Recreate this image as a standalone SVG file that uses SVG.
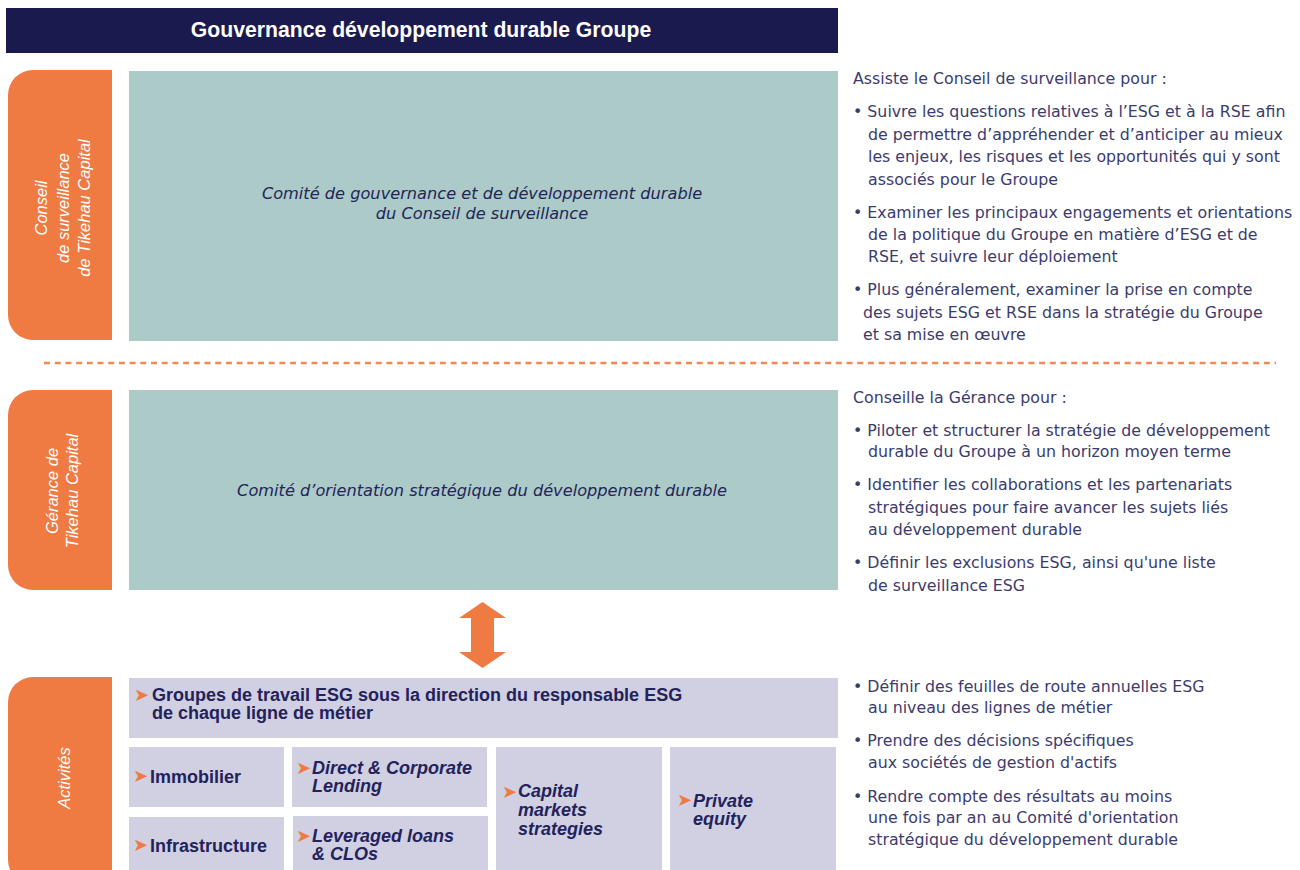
<svg xmlns="http://www.w3.org/2000/svg" width="1300" height="870" viewBox="0 0 1300 870">
<style>
.orange{fill:#ef7a42}
.teal{fill:#abcac8}
.lav{fill:#d1d0e3}
.side{font-family:"Liberation Sans",Arial,sans-serif;font-style:italic;font-size:16.5px;fill:#ffffff;text-anchor:middle}
.tealtxt{font-family:"DejaVu Sans",sans-serif;font-style:oblique;font-size:16.2px;fill:#24245a;text-anchor:middle}
.body{font-family:"DejaVu Sans",sans-serif;font-size:15.8px;fill:#3b3b6e}
.lt{font-family:"Liberation Sans",Arial,sans-serif;font-weight:bold;font-size:18px;fill:#23225a}
.lti{font-family:"Liberation Sans",Arial,sans-serif;font-weight:bold;font-style:italic;font-size:18px;fill:#23225a}
.bul{font-family:"DejaVu Sans",sans-serif;font-size:18px;fill:#ef7a42}
</style>

<g id="title">
<rect x="6" y="8" width="832" height="45" fill="#1b1a4f"/>
<text x="421" y="37" font-family="Liberation Sans, Arial, sans-serif" font-weight="bold" font-size="21.2" fill="#ffffff" text-anchor="middle">Gouvernance développement durable Groupe</text>
</g>

<g id="conseil-label">
<path class="orange" d="M112,70 H33 A25,25 0 0 0 8,95 V315 A25,25 0 0 0 33,340 H112 Z"/>
<text class="side" transform="translate(47,208) rotate(-90)"><tspan x="0" y="0">Conseil</tspan><tspan x="0" y="22">de surveillance</tspan><tspan x="0" y="43">de Tikehau Capital</tspan></text>
</g>

<g id="comite-gouvernance">
<rect class="teal" x="129" y="71" width="709" height="270"/>
<text class="tealtxt"><tspan x="482" y="199">Comité de gouvernance et de développement durable</tspan><tspan x="482" y="219">du Conseil de surveillance</tspan></text>
</g>

<g id="conseil-text">
<text class="body" x="853" y="84">Assiste le Conseil de surveillance pour :</text>
<text class="body"><tspan x="853" y="117">• Suivre les questions relatives à l’ESG et à la RSE afin</tspan><tspan x="868" y="140">de permettre d’appréhender et d’anticiper au mieux</tspan><tspan x="868" y="162">les enjeux, les risques et les opportunités qui y sont</tspan><tspan x="868" y="185">associés pour le Groupe</tspan></text>
<text class="body"><tspan x="853" y="218">• Examiner les principaux engagements et orientations</tspan><tspan x="868" y="240">de la politique du Groupe en matière d’ESG et de</tspan><tspan x="868" y="262">RSE, et suivre leur déploiement</tspan></text>
<text class="body"><tspan x="853" y="295">• Plus généralement, examiner la prise en compte</tspan><tspan x="863" y="318">des sujets ESG et RSE dans la stratégie du Groupe</tspan><tspan x="863" y="340">et sa mise en œuvre</tspan></text>
</g>

<g id="separator">
<line x1="44" y1="363" x2="1276" y2="363" stroke="#f08a55" stroke-width="2.5" stroke-dasharray="6 4.7"/>
</g>

<g id="gerance-label">
<path class="orange" d="M112,390 H33 A25,25 0 0 0 8,415 V565 A25,25 0 0 0 33,590 H112 Z"/>
<text class="side" transform="translate(58,491) rotate(-90)"><tspan x="0" y="0">Gérance de</tspan><tspan x="0" y="20">Tikehau Capital</tspan></text>
</g>

<g id="comite-orientation">
<rect class="teal" x="129" y="390" width="709" height="200"/>
<text class="tealtxt" x="482" y="496">Comité d’orientation stratégique du développement durable</text>
</g>

<g id="gerance-text">
<text class="body" x="853" y="403">Conseille la Gérance pour :</text>
<text class="body"><tspan x="853" y="436">• Piloter et structurer la stratégie de développement</tspan><tspan x="868" y="457">durable du Groupe à un horizon moyen terme</tspan></text>
<text class="body"><tspan x="853" y="490">• Identifier les collaborations et les partenariats</tspan><tspan x="868" y="513">stratégiques pour faire avancer les sujets liés</tspan><tspan x="868" y="535">au développement durable</tspan></text>
<text class="body"><tspan x="853" y="568">• Définir les exclusions ESG, ainsi qu'une liste</tspan><tspan x="868" y="591">de surveillance ESG</tspan></text>
</g>

<g id="activites-label">
<path class="orange" d="M112,677 H33 A25,25 0 0 0 8,702 V860 A25,25 0 0 0 33,885 H112 Z"/>
<text class="side" transform="translate(70,778) rotate(-90)">Activités</text>
</g>

<g id="groupes-travail">
<rect class="lav" x="129" y="678" width="709" height="60"/>
<text class="bul" x="134" y="701">➤</text>
<text class="lt"><tspan x="152" y="701">Groupes de travail ESG sous la direction du responsable ESG</tspan><tspan x="152" y="719">de chaque ligne de métier</tspan></text>
</g>

<g id="immobilier">
<rect class="lav" x="129" y="747" width="155" height="60"/>
<text class="bul" x="133" y="782">➤</text>
<text class="lt" x="150" y="783">Immobilier</text>
</g>

<g id="direct-lending">
<rect class="lav" x="292" y="747" width="195" height="60"/>
<text class="bul" x="296" y="774">➤</text>
<text class="lti"><tspan x="312" y="774">Direct &amp; Corporate</tspan><tspan x="312" y="792">Lending</tspan></text>
</g>

<g id="infrastructure">
<rect class="lav" x="129" y="817" width="155" height="60"/>
<text class="bul" x="133" y="851">➤</text>
<text class="lt" x="150" y="852">Infrastructure</text>
</g>

<g id="leveraged-loans">
<rect class="lav" x="293" y="816" width="195" height="60"/>
<text class="bul" x="296" y="842">➤</text>
<text class="lti"><tspan x="312" y="842">Leveraged loans</tspan><tspan x="312" y="860">&amp; CLOs</tspan></text>
</g>

<g id="capital-markets">
<rect class="lav" x="496" y="747" width="166" height="130"/>
<text class="bul" x="502" y="798">➤</text>
<text class="lti"><tspan x="518" y="797">Capital</tspan><tspan x="518" y="816">markets</tspan><tspan x="518" y="835">strategies</tspan></text>
</g>

<g id="private-equity">
<rect class="lav" x="670" y="747" width="166" height="130"/>
<text class="bul" x="677" y="806">➤</text>
<text class="lti"><tspan x="693" y="807">Private</tspan><tspan x="693" y="825">equity</tspan></text>
</g>

<g id="activites-text">
<text class="body"><tspan x="853" y="692">• Définir des feuilles de route annuelles ESG</tspan><tspan x="868" y="713">au niveau des lignes de métier</tspan></text>
<text class="body"><tspan x="853" y="746">• Prendre des décisions spécifiques</tspan><tspan x="868" y="768">aux sociétés de gestion d'actifs</tspan></text>
<text class="body"><tspan x="853" y="802">• Rendre compte des résultats au moins</tspan><tspan x="868" y="823">une fois par an au Comité d'orientation</tspan><tspan x="868" y="845">stratégique du développement durable</tspan></text>
</g>

<g id="connectors">
<polygon fill="#ef7a42" points="482.5,602 506,618 494,618 494,652 506,652 482.5,668 459,652 471,652 471,618 459,618"/>
</g>
</svg>
